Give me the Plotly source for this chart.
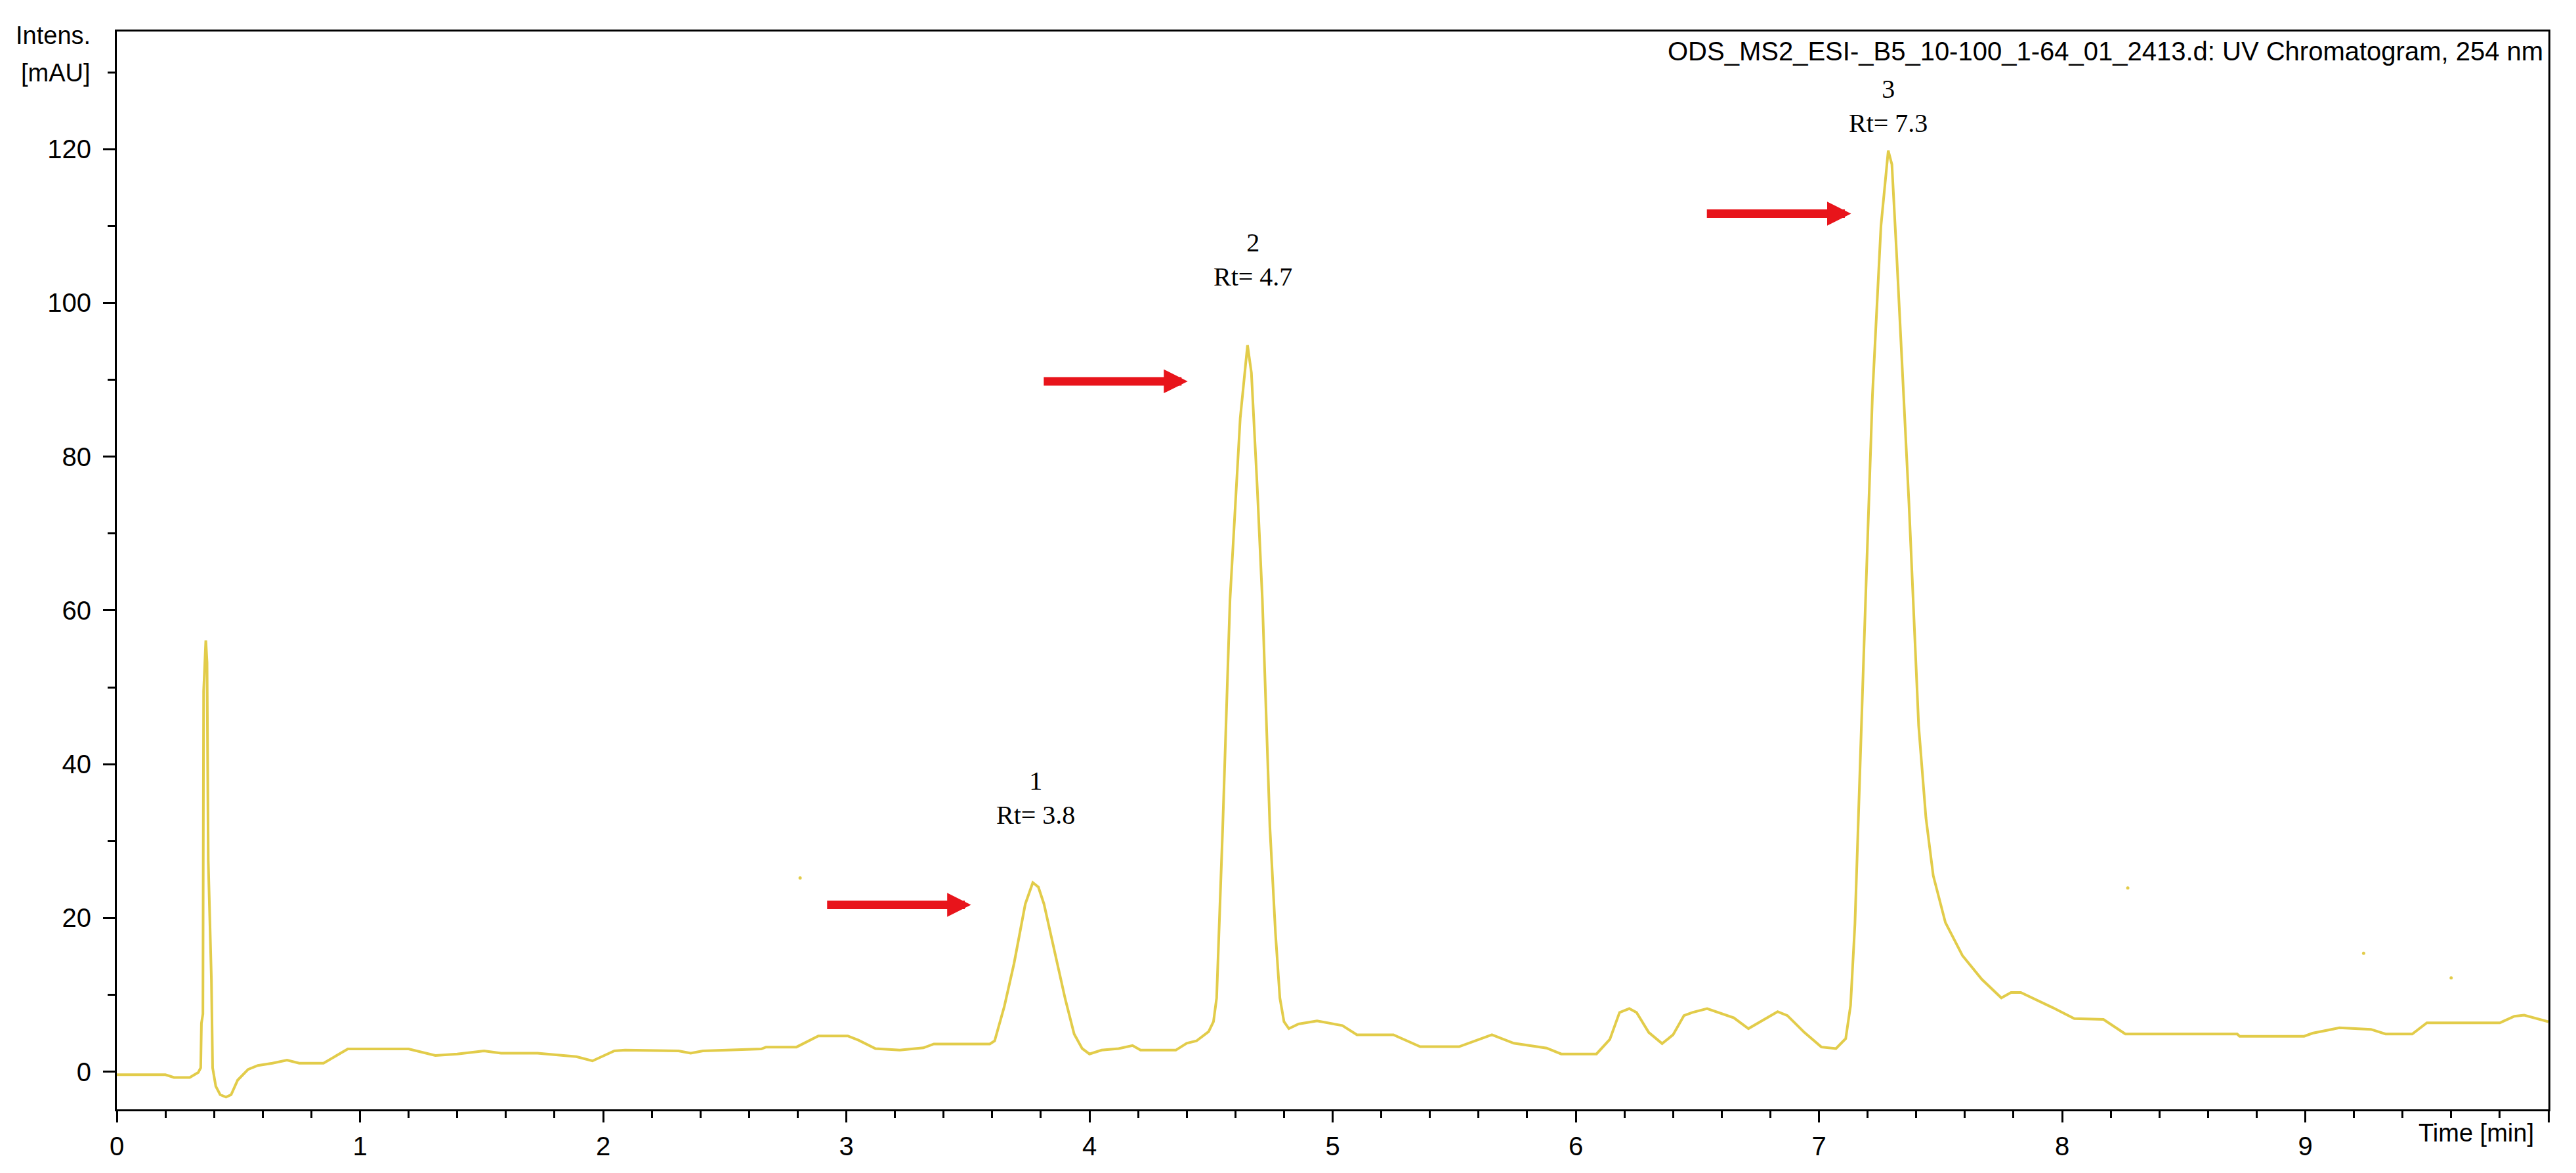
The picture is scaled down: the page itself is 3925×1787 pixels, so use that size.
import plotly.graph_objects as go

# UV chromatogram at 254 nm
time_min = [
    0.00, 0.20, 0.235, 0.30, 0.335, 0.345, 0.348, 0.354, 0.357, 0.366,
    0.371, 0.372, 0.376, 0.389, 0.394, 0.407, 0.425, 0.449, 0.470, 0.497,
    0.54, 0.58, 0.64, 0.70, 0.75, 0.85, 0.95, 1.20, 1.31, 1.40,
    1.51, 1.58, 1.73, 1.89, 1.956, 2.046, 2.09, 2.31, 2.36, 2.41,
    2.65, 2.67, 2.795, 2.885, 3.006, 3.05, 3.12, 3.22, 3.317, 3.36,
    3.59, 3.61, 3.65, 3.69, 3.736, 3.767, 3.79, 3.813, 3.84, 3.867,
    3.90, 3.937, 3.97, 4.00, 4.05, 4.12, 4.177, 4.21, 4.355, 4.40,
    4.44, 4.49, 4.51, 4.523, 4.548, 4.578, 4.62, 4.65, 4.666, 4.69,
    4.711, 4.742, 4.765, 4.783, 4.80, 4.82, 4.86, 4.936, 5.04, 5.10,
    5.25, 5.36, 5.52, 5.655, 5.745, 5.88, 5.94, 6.085, 6.14, 6.18,
    6.22, 6.25, 6.30, 6.355, 6.40, 6.445, 6.48, 6.54, 6.60, 6.65,
    6.71, 6.77, 6.83, 6.87, 6.94, 7.01, 7.07, 7.11, 7.13, 7.148,
    7.166, 7.185, 7.22, 7.255, 7.285, 7.30, 7.32, 7.345, 7.37, 7.41,
    7.44, 7.47, 7.52, 7.59, 7.67, 7.75, 7.79, 7.83, 7.96, 8.05,
    8.17, 8.26, 8.72, 8.73, 8.995, 9.03, 9.14, 9.27, 9.33, 9.44,
    9.50, 9.80, 9.86, 9.90, 9.98, 10.0,
]
intensity_mau = [
    -0.4, -0.4, -0.75, -0.75, -0.1, 0.5, 6.3, 7.5, 49.5, 56.1,
    53.2, 49.5, 27.5, 12.0, 0.5, -1.9, -3.0, -3.3, -3.0, -1.1,
    0.3, 0.8, 1.1, 1.5, 1.1, 1.1, 2.95, 2.95, 2.1, 2.3,
    2.7, 2.4, 2.4, 1.95, 1.4, 2.7, 2.8, 2.7, 2.4, 2.7,
    2.95, 3.2, 3.2, 4.65, 4.65, 4.1, 3.0, 2.8, 3.1, 3.6,
    3.6, 4.0, 8.5, 14.1, 21.8, 24.6, 24.0, 21.8, 18.0, 14.1,
    9.5, 4.9, 3.0, 2.3, 2.8, 3.0, 3.4, 2.8, 2.8, 3.7,
    4.0, 5.2, 6.5, 9.6, 31.8, 61.4, 85.0, 94.5, 90.9, 76.0,
    61.4, 31.8, 18.0, 9.6, 6.5, 5.6, 6.2, 6.6, 6.0, 4.8,
    4.8, 3.25, 3.25, 4.8, 3.7, 3.07, 2.3, 2.3, 4.2, 7.7,
    8.2, 7.7, 5.1, 3.65, 4.8, 7.3, 7.7, 8.2, 7.5, 7.0,
    5.6, 6.7, 7.8, 7.3, 5.1, 3.2, 3.0, 4.3, 8.6, 19.2,
    35.6, 55.0, 88.0, 110.0, 119.8, 118.0, 106.0, 90.0, 74.0, 45.0,
    33.0, 25.5, 19.4, 15.1, 12.0, 9.6, 10.3, 10.3, 8.35, 6.9,
    6.8, 4.9, 4.9, 4.6, 4.6, 5.0, 5.7, 5.5, 4.9, 4.9,
    6.35, 6.35, 7.2, 7.35, 6.6, 6.5,
]

# stray specks in the trace window
speck_time = [2.81, 8.27, 9.24, 9.60]
speck_intensity = [25.2, 23.9, 15.4, 12.2]

# peak labels
peak_names = ["1", "2", "3"]
peak_rt = ["Rt= 3.8", "Rt= 4.7", "Rt= 7.3"]
label_x = [3.78, 4.672, 7.285]
label_y = [35.6, 105.6, 125.6]

# red arrows pointing at the peaks
arrow_tail_x = [2.917, 3.808, 6.535]
arrow_tip_x = [3.513, 4.404, 7.132]
arrow_y = [21.7, 89.8, 111.6]

title_text = "ODS_MS2_ESI-_B5_10-100_1-64_01_2413.d: UV Chromatogram, 254 nm"

line_color = "#E2CC4A"
sans = "Liberation Sans, Arial, sans-serif"
serif = "Liberation Serif, Times New Roman, serif"

fig = go.Figure()

fig.add_trace(
    go.Scatter(
        x=time_min,
        y=intensity_mau,
        mode="lines",
        line=dict(color=line_color, width=4),
        showlegend=False,
    )
)

fig.add_trace(
    go.Scatter(
        x=speck_time,
        y=speck_intensity,
        mode="markers",
        marker=dict(color=line_color, size=5),
        showlegend=False,
    )
)

for name, rt, lx, ly in zip(peak_names, peak_rt, label_x, label_y):
    fig.add_annotation(
        x=lx,
        y=ly,
        text=name + "<br>" + rt,
        showarrow=False,
        font=dict(family=serif, size=40, color="black"),
        align="center",
    )

for tail, tip, ay in zip(arrow_tail_x, arrow_tip_x, arrow_y):
    fig.add_annotation(
        x=tip,
        y=ay,
        ax=tail,
        ay=ay,
        xref="x",
        yref="y",
        axref="x",
        ayref="y",
        text="",
        showarrow=True,
        arrowhead=2,
        arrowsize=0.56,
        arrowwidth=13,
        arrowcolor="#E8141B",
    )

# instrument title, top right inside the frame
fig.add_annotation(
    x=1,
    y=1,
    xref="paper",
    yref="paper",
    xanchor="right",
    yanchor="top",
    xshift=-6,
    yshift=-6,
    text=title_text,
    showarrow=False,
    font=dict(family=sans, size=40, color="black"),
)

# y axis caption, to the upper left of the frame
fig.add_annotation(
    x=0, y=1, xref="paper", yref="paper",
    xanchor="right", yanchor="middle",
    xshift=-38, yshift=-6,
    text="Intens.", showarrow=False,
    font=dict(family=sans, size=38, color="black"),
)
fig.add_annotation(
    x=0, y=1, xref="paper", yref="paper",
    xanchor="right", yanchor="middle",
    xshift=-38, yshift=-63,
    text="[mAU]", showarrow=False,
    font=dict(family=sans, size=38, color="black"),
)

# x axis caption in place of the last tick label
fig.add_annotation(
    x=1, y=0, xref="paper", yref="paper",
    xanchor="right", yanchor="middle",
    xshift=-20, yshift=-36,
    text="Time [min]", showarrow=False,
    font=dict(family=sans, size=38, color="black"),
)

fig.update_xaxes(
    range=[0, 10],
    tickvals=list(range(0, 11)),
    ticktext=[str(i) for i in range(0, 10)] + [""],
    ticks="outside",
    ticklen=17,
    tickwidth=3,
    tickcolor="black",
    minor=dict(dtick=0.2, ticks="outside", ticklen=10, tickwidth=3, tickcolor="black"),
    showline=True,
    linewidth=3,
    linecolor="black",
    mirror=True,
    showgrid=False,
    zeroline=False,
    tickfont=dict(family=sans, size=40, color="black"),
    ticklabelstandoff=2,
)

fig.update_yaxes(
    range=[-4.9, 135.3],
    tick0=0,
    dtick=20,
    ticks="outside",
    ticklen=18,
    tickwidth=3,
    tickcolor="black",
    minor=dict(dtick=10, ticks="outside", ticklen=11, tickwidth=3, tickcolor="black"),
    showline=True,
    linewidth=3,
    linecolor="black",
    mirror=True,
    showgrid=False,
    zeroline=False,
    tickfont=dict(family=sans, size=40, color="black"),
    ticklabelstandoff=10,
)

fig.update_layout(
    width=3925,
    height=1787,
    margin=dict(l=170, r=50, t=40, b=105),
    plot_bgcolor="white",
    paper_bgcolor="white",
    showlegend=False,
)

fig.write_html("out.html")
